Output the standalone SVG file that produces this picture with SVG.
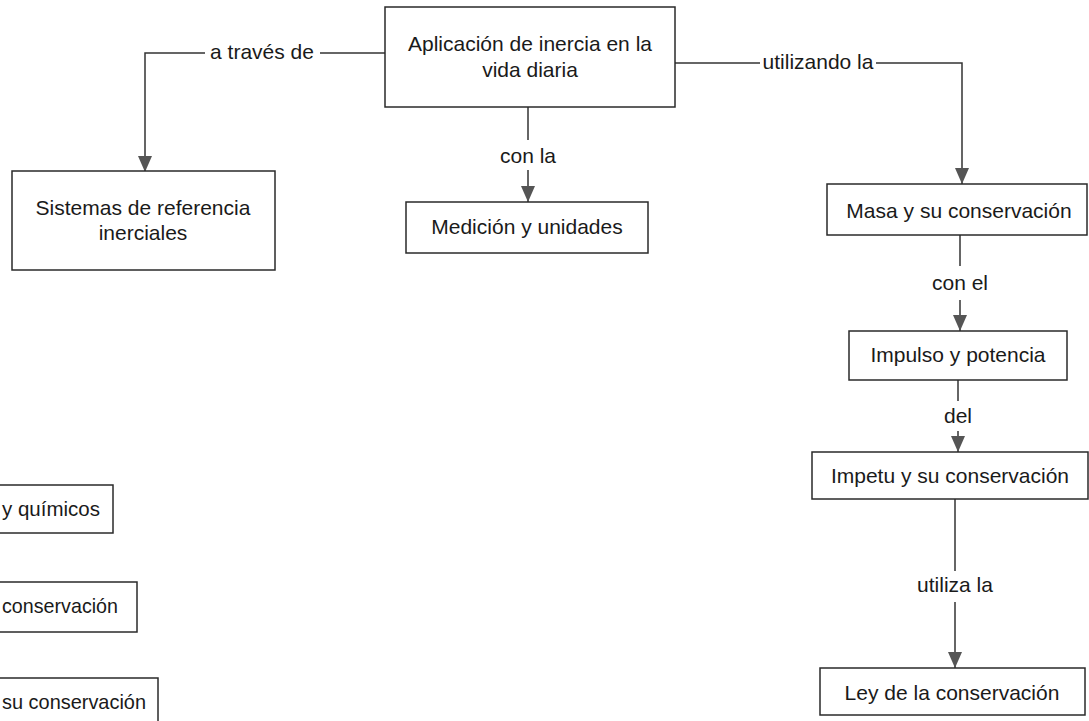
<svg xmlns="http://www.w3.org/2000/svg" width="1089" height="721" viewBox="0 0 1089 721">
  <style>
    .box { fill: #ffffff; stroke: #2a2a2a; stroke-width: 1.5; }
    .txt { font-family: "Liberation Sans", Arial, sans-serif; font-size: 21px; fill: #1a1a1a; text-anchor: middle; }
    .start { text-anchor: start; }
    .link { fill: none; stroke: #333333; stroke-width: 1.5; }
  </style>
  <defs>
    <marker id="tri" viewBox="0 0 16 14" refX="16" refY="7" markerWidth="16" markerHeight="14" markerUnits="userSpaceOnUse" orient="auto">
      <path d="M0,0 L16,7 L0,14 Z" fill="#555555"/>
    </marker>
  </defs>
  <rect width="1089" height="721" fill="#ffffff"/>

  <!-- connectors -->
  <g id="connectors">
    <path class="link" d="M385,53 H320"/>
    <path class="link" d="M205,53 H145 V172" marker-end="url(#tri)"/>
    <text class="txt" x="262" y="59">a través de</text>

    <path class="link" d="M528,107 V140"/>
    <path class="link" d="M528,170 V202" marker-end="url(#tri)"/>
    <text class="txt" x="528" y="163">con la</text>

    <path class="link" d="M675,63 H760"/>
    <path class="link" d="M876,63 H962 V184" marker-end="url(#tri)"/>
    <text class="txt" x="818" y="69">utilizando la</text>

    <path class="link" d="M960,235 V266"/>
    <path class="link" d="M960,300 V331" marker-end="url(#tri)"/>
    <text class="txt" x="960" y="290">con el</text>

    <path class="link" d="M958,380 V401"/>
    <path class="link" d="M958,431 V452" marker-end="url(#tri)"/>
    <text class="txt" x="958" y="423">del</text>

    <path class="link" d="M955,499 V571"/>
    <path class="link" d="M955,602 V668" marker-end="url(#tri)"/>
    <text class="txt" x="955" y="592">utiliza la</text>
  </g>

  <!-- nodes -->
  <g id="node-aplicacion">
    <rect class="box" x="385" y="7" width="290" height="100"/>
    <text class="txt" x="530" y="51">Aplicación de inercia en la</text>
    <text class="txt" x="530" y="77">vida diaria</text>
  </g>
  <g id="node-sistemas">
    <rect class="box" x="12" y="171" width="263" height="99"/>
    <text class="txt" x="143" y="215">Sistemas de referencia</text>
    <text class="txt" x="143" y="240">inerciales</text>
  </g>
  <g id="node-medicion">
    <rect class="box" x="406" y="202" width="242" height="51"/>
    <text class="txt" x="527" y="234">Medición y unidades</text>
  </g>
  <g id="node-masa">
    <rect class="box" x="827" y="184" width="260" height="51"/>
    <text class="txt" x="959" y="218">Masa y su conservación</text>
  </g>
  <g id="node-impulso">
    <rect class="box" x="849" y="331" width="218" height="49"/>
    <text class="txt" x="958" y="362">Impulso y potencia</text>
  </g>
  <g id="node-impetu">
    <rect class="box" x="812" y="452" width="276" height="47"/>
    <text class="txt" x="950" y="483">Impetu y su conservación</text>
  </g>
  <g id="node-ley">
    <rect class="box" x="820" y="668" width="265" height="47"/>
    <text class="txt" x="952" y="700">Ley de la conservación</text>
  </g>
  <g id="node-quimicos">
    <rect class="box" x="-50" y="485" width="163" height="48"/>
    <text class="txt start" x="2" y="516" textLength="98" lengthAdjust="spacingAndGlyphs">y químicos</text>
  </g>
  <g id="node-conservacion">
    <rect class="box" x="-50" y="582" width="187" height="50"/>
    <text class="txt start" x="2" y="613" textLength="116" lengthAdjust="spacingAndGlyphs">conservación</text>
  </g>
  <g id="node-su-conservacion">
    <rect class="box" x="-50" y="678" width="208" height="60"/>
    <text class="txt start" x="2" y="709" textLength="144" lengthAdjust="spacingAndGlyphs">su conservación</text>
  </g>
</svg>
